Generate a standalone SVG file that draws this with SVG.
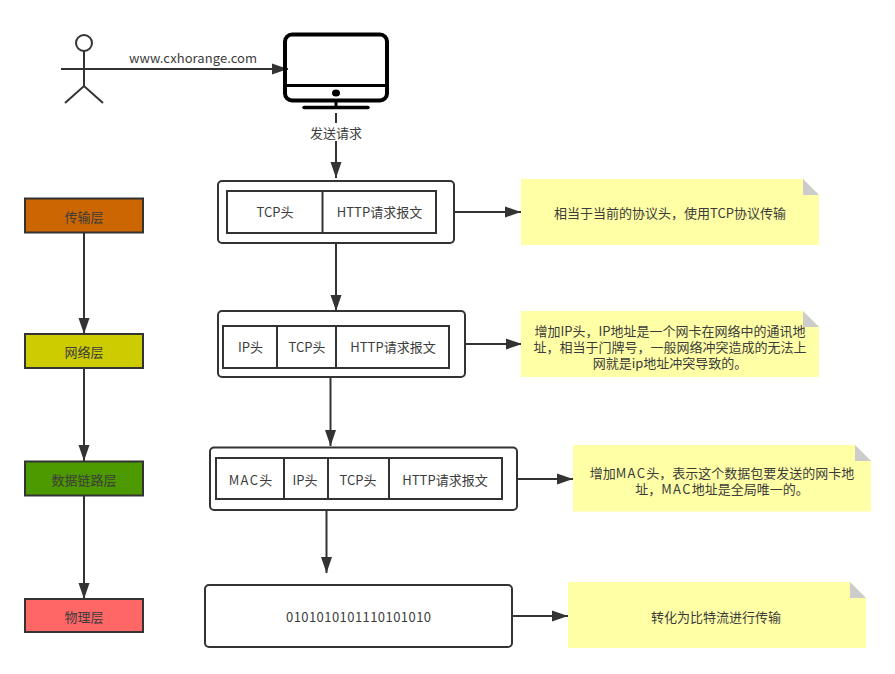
<svg xmlns="http://www.w3.org/2000/svg" width="895" height="674" viewBox="0 0 895 674">
<style>
text{font-family:"Noto Sans CJK SC","Liberation Sans",sans-serif;font-size:13px;fill:#3c3c3c;text-anchor:middle;dominant-baseline:central}
.w{letter-spacing:1.300px}
.c{fill:none;stroke:#333;stroke-width:2}
.o{fill:#fff;stroke:#333;stroke-width:2}
.l{stroke:#333;stroke-width:2}
.n{fill:#ffffa6}
.f{fill:#ccc}
</style>
<defs><marker id="a" markerUnits="userSpaceOnUse" markerWidth="16" markerHeight="12" refX="16" refY="6" orient="auto"><path d="M0 0.500L16 6L0 11.500Z" fill="#333"/></marker></defs>
<rect width="895" height="674" fill="#fff"/>
<g id="connectors">
<path class="c" d="M61 69H288" marker-end="url(#a)"/>
<path class="c" d="M336 113V178" marker-end="url(#a)"/>
<path class="c" d="M336 243V311" marker-end="url(#a)"/>
<path class="c" d="M330.500 377V446" marker-end="url(#a)"/>
<path class="c" d="M326.500 510V573" marker-end="url(#a)"/>
<path class="c" d="M454 212H521" marker-end="url(#a)"/>
<path class="c" d="M465 344H522" marker-end="url(#a)"/>
<path class="c" d="M517 479H573" marker-end="url(#a)"/>
<path class="c" d="M512 616H568" marker-end="url(#a)"/>
<path class="c" d="M84 233V334" marker-end="url(#a)"/>
<path class="c" d="M84 368V461" marker-end="url(#a)"/>
<path class="c" d="M84 496V599" marker-end="url(#a)"/>
<rect x="308" y="123" width="56" height="18" fill="#fff"/>
<text x="336" y="132.500">发送请求</text>
<text x="193" y="57" textLength="128">www.cxhorange.com</text>
</g>
<g id="actor"><circle cx="84" cy="43" r="8" fill="#fff" stroke="#333" stroke-width="2"/><path class="c" d="M84 51V86M61 69H107M65 103L84 86L103 103"/></g>
<g id="monitor" fill="none" stroke="#000"><rect x="285" y="34.500" width="102" height="66" rx="7" stroke-width="4"/><path d="M285 85.500H387" stroke-width="3"/><path d="M336 100V107" stroke-width="3"/><path d="M304 107.500H368" stroke-width="3.500" stroke-linecap="round"/><ellipse cx="336" cy="93" rx="4" ry="3.500" fill="#000" stroke="none"/></g>
<g id="layer-transport"><rect class="o" x="25" y="198.500" width="118" height="34" style="fill:#c60"/><text x="84" y="216">传输层</text></g>
<g id="layer-network"><rect class="o" x="25" y="334" width="118" height="34" style="fill:#cc0"/><text x="84" y="351">网络层</text></g>
<g id="layer-link"><rect class="o" x="25" y="461.500" width="118" height="34" style="fill:#4d9900"/><text x="84" y="479">数据链路层</text></g>
<g id="layer-physical"><rect class="o" x="25" y="599" width="118" height="33" style="fill:#f66"/><text x="84" y="616">物理层</text></g>
<g id="packet-tcp"><rect class="o" x="218" y="181" width="236" height="62" rx="4"/><rect class="o" x="227" y="191" width="209" height="42"/><path class="l" d="M322.500 191V233"/><text x="275" y="211.500">TCP头</text><text x="379.500" y="211.500">HTTP请求报文</text></g>
<g id="packet-ip"><rect class="o" x="218" y="311" width="247" height="66" rx="4"/><rect class="o" x="223" y="326" width="226" height="42"/><path class="l" d="M277 326V368M336 326V368"/><text x="250.500" y="346.500">IP头</text><text x="307" y="346.500">TCP头</text><text x="393" y="346.500">HTTP请求报文</text></g>
<g id="packet-mac"><rect class="o" x="210" y="447.500" width="307" height="62.500" rx="4"/><rect class="o" x="216" y="458" width="286" height="41"/><path class="l" d="M284 458V499M328 458V499M389 458V499"/><text x="250.500" y="479"><tspan class="w">MAC</tspan>头</text><text x="305" y="479">IP头</text><text x="358" y="479">TCP头</text><text x="445" y="479">HTTP请求报文</text></g>
<g id="packet-bits"><rect class="o" x="205" y="585" width="307" height="62" rx="4"/><text x="358.500" y="616.500" textLength="145">0101010101110101010</text></g>
<g id="note-1"><path class="n" d="M521 179H803L819 195V245H521Z"/><path class="f" d="M803 179L819 195H803Z"/><text x="670" y="212.500">相当于当前的协议头，使用TCP协议传输</text></g>
<g id="note-2"><path class="n" d="M521 311H803L819 327V377H521Z"/><path class="f" d="M803 311L819 327H803Z"/><text y="330"><tspan x="670">增加IP头，IP地址是一个网卡在网络中的通讯地</tspan><tspan x="670" dy="16">址，相当于门牌号，一般网络冲突造成的无法上</tspan><tspan x="670" dy="16">网就是ip地址冲突导致的。</tspan></text></g>
<g id="note-3"><path class="n" d="M573 445H855L871 461V511.500H573Z"/><path class="f" d="M855 445L871 461H855Z"/><text y="471.500"><tspan x="722">增加<tspan class="w">MAC</tspan>头，表示这个数据包要发送的网卡地</tspan><tspan x="722" dy="16">址，<tspan class="w">MAC</tspan>地址是全局唯一的。</tspan></text></g>
<g id="note-4"><path class="n" d="M568 582H850L866 598V648H568Z"/><path class="f" d="M850 582L866 598H850Z"/><text x="716" y="616.500">转化为比特流进行传输</text></g>
</svg>
